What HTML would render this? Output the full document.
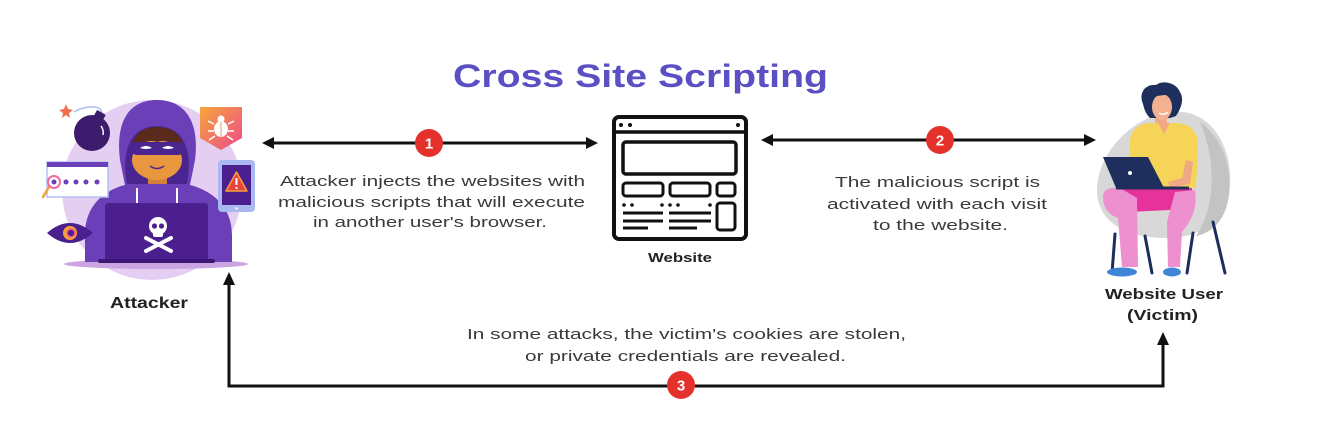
<!DOCTYPE html>
<html><head><meta charset="utf-8"><style>
html,body{margin:0;padding:0;background:#fff;}
svg{display:block;}
text{font-family:"Liberation Sans",Arial,sans-serif;}
</style></head><body>
<svg width="1328" height="440" viewBox="0 0 1328 440" xmlns="http://www.w3.org/2000/svg">
<defs>
<linearGradient id="sg" x1="0" y1="0" x2="1" y2="1">
<stop offset="0" stop-color="#f7a53a"/><stop offset="1" stop-color="#ec4a8c"/>
</linearGradient>
</defs>
<rect width="1328" height="440" fill="#fff"/>

<!-- Title -->
<text x="453" y="87" font-size="32" font-weight="bold" fill="#5a4fc3" textLength="375" lengthAdjust="spacingAndGlyphs">Cross Site Scripting</text>

<!-- ===== Attacker ===== -->
<circle cx="152" cy="190" r="90" fill="#e4cff2"/>
<ellipse cx="156" cy="264" rx="92" ry="5" fill="#caa5e2"/>
<path d="M85 262 L85 235 C85 205 105 190 125 185 L120 160 C115 120 130 100 157 100 C184 100 200 120 195 160 L190 185 C210 190 232 205 232 235 L232 262 Z" fill="#6b3fb8"/>
<path d="M127 184 C121 150 130 127 157 126 C184 127 193 150 187 184 Z" fill="#4a2590"/>
<rect x="148" y="170" width="19" height="14" fill="#d2803a"/>
<ellipse cx="157" cy="160" rx="25" ry="20" fill="#e8973f"/>
<path d="M132 152 C131 133 145 127 157 127 C172 127 184 135 183 150 C175 141 165 139 157 142 C148 139 138 143 132 152 Z" fill="#5a2a1c"/>
<rect x="131" y="142" width="53" height="13" rx="6" fill="#4a2590"/>
<path d="M140 148 Q146 144 152 148 Q146 150 140 148Z" fill="#fff"/>
<path d="M162 148 Q168 144 174 148 Q168 150 162 148Z" fill="#fff"/>
<path d="M150 166 Q157 171 164 166" stroke="#4a2590" stroke-width="1.5" fill="none"/>
<line x1="137" y1="188" x2="137" y2="205" stroke="#fff" stroke-width="2"/>
<line x1="177" y1="188" x2="177" y2="205" stroke="#fff" stroke-width="2"/>
<rect x="105" y="203" width="103" height="58" rx="3" fill="#4c1f8e"/>
<rect x="98" y="259" width="117" height="4" rx="2" fill="#3d1775"/>
<circle cx="158" cy="226" r="9" fill="#fff"/>
<rect x="153" y="230" width="10" height="7" rx="2" fill="#fff"/>
<circle cx="154.5" cy="226" r="2.6" fill="#4c1f8e"/>
<circle cx="161.5" cy="226" r="2.6" fill="#4c1f8e"/>
<line x1="146" y1="238" x2="171" y2="251" stroke="#fff" stroke-width="4" stroke-linecap="round"/>
<line x1="171" y1="238" x2="146" y2="251" stroke="#fff" stroke-width="4" stroke-linecap="round"/>
<path d="M101 116 C106 104 85 105 74 112" stroke="#a9c0ef" stroke-width="1.5" fill="none"/>
<polygon points="66,104 68,109 73,110 69,113 70,118 66,115 62,118 63,113 59,110 64,109" fill="#f0704e"/>
<circle cx="92" cy="133" r="18" fill="#3d1c6e"/>
<rect x="95" y="112" width="10" height="7" rx="1" transform="rotate(30 100 115)" fill="#3d1c6e"/>
<path d="M101 126 Q104 130 103 135" stroke="#fff" stroke-width="1.5" fill="none"/>
<path d="M200 107 L242 107 L242 138 L221 150 L200 138 Z" fill="url(#sg)"/>
<ellipse cx="221" cy="129" rx="7" ry="8" fill="#fff"/>
<circle cx="221" cy="119" r="3.5" fill="#fff"/>
<g stroke="#fff" stroke-width="1.5"><line x1="214" y1="124" x2="208" y2="121"/><line x1="228" y1="124" x2="234" y2="121"/><line x1="214" y1="131" x2="208" y2="131"/><line x1="228" y1="131" x2="234" y2="131"/><line x1="215" y1="136" x2="209" y2="140"/><line x1="227" y1="136" x2="233" y2="140"/></g>
<line x1="221" y1="122" x2="221" y2="137" stroke="#f09a5a" stroke-width="1"/>
<rect x="218" y="160" width="37" height="52" rx="4" fill="#a9b8f0"/>
<rect x="222" y="165" width="29" height="40" fill="#4c1f8e"/>
<polygon points="236.5,172 247,191 226,191" fill="#e8453c" stroke="#f6a03a" stroke-width="1.5" stroke-linejoin="round"/>
<rect x="235.5" y="178" width="2" height="7" fill="#fff"/>
<circle cx="236.5" cy="188" r="1.1" fill="#fff"/>
<circle cx="236.5" cy="208.5" r="1.2" fill="#fff"/>
<rect x="47" y="162" width="61" height="35" fill="#fff" stroke="#b3c0f0" stroke-width="1.5"/>
<rect x="47" y="162" width="61" height="5" fill="#6b3fb8"/>
<g fill="#6b3fb8"><circle cx="66" cy="182" r="2.5"/><circle cx="76" cy="182" r="2.5"/><circle cx="86" cy="182" r="2.5"/><circle cx="97" cy="182" r="2.5"/></g>
<line x1="49" y1="187" x2="43" y2="197" stroke="#f6a03a" stroke-width="2.5" stroke-linecap="round"/>
<circle cx="54" cy="182" r="6" fill="#fff" stroke="#ef6aa8" stroke-width="2"/>
<circle cx="54" cy="182" r="2.5" fill="#6b3fb8"/>
<path d="M47 233 Q70 213 93 233 Q70 253 47 233 Z" fill="#4c1f8e"/>
<circle cx="70" cy="233" r="7" fill="#f6a03a"/>
<circle cx="71" cy="233" r="4.5" fill="#ef4a8e"/>
<circle cx="71" cy="233" r="3" fill="#4c1f8e"/>
<text x="110" y="308" font-size="16" font-weight="bold" fill="#222" textLength="78" lengthAdjust="spacingAndGlyphs">Attacker</text>

<!-- ===== Website icon ===== -->
<g fill="none" stroke="#111">
<rect x="614" y="117" width="132" height="122" rx="5" stroke-width="4"/>
<line x1="614" y1="132" x2="746" y2="132" stroke-width="3.5"/>
<rect x="623" y="142" width="113" height="32" rx="3" stroke-width="3.5"/>
<rect x="623" y="183" width="40" height="13" rx="3" stroke-width="3"/>
<rect x="670" y="183" width="40" height="13" rx="3" stroke-width="3"/>
<rect x="717" y="183" width="18" height="13" rx="3" stroke-width="3"/>
<rect x="717" y="203" width="18" height="27" rx="3" stroke-width="3"/>
<g stroke-width="3"><line x1="623" y1="213" x2="663" y2="213"/><line x1="623" y1="221" x2="663" y2="221"/><line x1="623" y1="228" x2="648" y2="228"/>
<line x1="669" y1="213" x2="711" y2="213"/><line x1="669" y1="221" x2="711" y2="221"/><line x1="669" y1="228" x2="697" y2="228"/></g>
</g>
<g fill="#111"><circle cx="621" cy="125" r="2"/><circle cx="630" cy="125" r="2"/><circle cx="738" cy="125" r="2"/>
<circle cx="624" cy="205" r="1.8"/><circle cx="632" cy="205" r="1.8"/><circle cx="662" cy="205" r="1.8"/><circle cx="670" cy="205" r="1.8"/><circle cx="678" cy="205" r="1.8"/><circle cx="710" cy="205" r="1.8"/></g>
<text x="648" y="262" font-size="13" font-weight="bold" fill="#222" textLength="64" lengthAdjust="spacingAndGlyphs">Website</text>

<!-- ===== Victim ===== -->
<path d="M1183 112 C1215 116 1232 150 1230 185 C1228 218 1205 238 1165 238 C1120 238 1097 218 1097 190 C1097 150 1140 108 1183 112 Z" fill="#d8d8d8"/>
<path d="M1200 122 C1222 138 1232 165 1229 195 C1226 220 1212 233 1196 236 C1214 210 1218 165 1200 122 Z" fill="#c3c3c3"/>
<g stroke="#1c2e5c" stroke-width="3" stroke-linecap="round">
<line x1="1115" y1="234" x2="1112" y2="273"/><line x1="1145" y1="236" x2="1152" y2="273"/>
<line x1="1193" y1="233" x2="1187" y2="273"/><line x1="1213" y1="222" x2="1225" y2="273"/></g>
<!-- skirt -->
<path d="M1118 188 L1192 186 L1192 209 L1128 212 Z" fill="#e8329b"/>
<!-- legs -->
<path d="M1103 197 C1103 189 1110 187 1120 188 L1137 198 L1138 267 L1122 267 L1118 218 C1107 214 1103 206 1103 197 Z" fill="#ee8fd0"/>
<path d="M1175 192 L1195 190 C1198 210 1190 222 1182 232 L1180 267 L1168 267 L1167 222 Z" fill="#ee8fd0"/>
<ellipse cx="1122" cy="272" rx="15" ry="4.5" fill="#3f86d8"/>
<ellipse cx="1172" cy="272" rx="9" ry="4.5" fill="#3f86d8"/>
<!-- shirt -->
<rect x="1155" y="112" width="12" height="14" fill="#f1a886"/>
<path d="M1128 188 L1130 140 C1132 128 1140 123 1152 123 L1175 123 C1190 123 1198 131 1198 146 L1196 188 Z" fill="#f5d457"/>
<path d="M1158 123 L1164 134 L1170 123 Z" fill="#f1a886"/>
<path d="M1186 160 L1193 162 L1190 184 L1170 188 L1168 182 L1182 178 Z" fill="#f1a886"/>
<!-- head -->
<path d="M1143 104 C1138 92 1146 84 1156 85 C1162 80 1176 82 1180 92 C1185 100 1180 110 1176 116 L1170 118 L1150 118 C1145 113 1144 108 1143 104 Z" fill="#1e2f5e"/>
<ellipse cx="1162" cy="107" rx="10" ry="13" fill="#f4b190"/>
<path d="M1151 98 C1155 90 1168 89 1176 96 C1168 94 1158 95 1151 98 Z" fill="#1e2f5e"/>
<path d="M1159 113 Q1164 116 1168 112" stroke="#fff" stroke-width="1.5" fill="none"/>
<!-- laptop -->
<polygon points="1103,157 1148,157 1164,188 1116,188" fill="#1e2f5e"/>
<line x1="1116" y1="188" x2="1189" y2="188" stroke="#1e2f5e" stroke-width="3"/>
<circle cx="1130" cy="173" r="2" fill="#fff"/>
<text x="1105" y="299" font-size="15" font-weight="bold" fill="#222" textLength="118" lengthAdjust="spacingAndGlyphs">Website User</text>
<text x="1127" y="320" font-size="15" font-weight="bold" fill="#222" textLength="71" lengthAdjust="spacingAndGlyphs">(Victim)</text>

<!-- ===== Arrows ===== -->
<g stroke="#111" stroke-width="3" fill="none">
<line x1="272" y1="143" x2="588" y2="143"/>
<line x1="771" y1="140" x2="1086" y2="140"/>
<polyline points="229,283 229,386 1163,386 1163,343"/>
</g>
<g fill="#111">
<polygon points="262,143 274,137 274,149"/>
<polygon points="598,143 586,137 586,149"/>
<polygon points="761,140 773,134 773,146"/>
<polygon points="1096,140 1084,134 1084,146"/>
<polygon points="229,272 223,285 235,285"/>
<polygon points="1163,332 1157,345 1169,345"/>
</g>
<g>
<circle cx="429" cy="143" r="14" fill="#e4312b"/>
<text x="429" y="148.5" font-size="15" font-weight="bold" fill="#fff" text-anchor="middle">1</text>
<circle cx="940" cy="140" r="14" fill="#e4312b"/>
<text x="940" y="145.5" font-size="15" font-weight="bold" fill="#fff" text-anchor="middle">2</text>
<circle cx="681" cy="385" r="14" fill="#e4312b"/>
<text x="681" y="390.5" font-size="15" font-weight="bold" fill="#fff" text-anchor="middle">3</text>
</g>

<!-- ===== Descriptions ===== -->
<g font-size="15" fill="#3a3a3a">
<text x="280" y="186" textLength="305" lengthAdjust="spacingAndGlyphs">Attacker injects the websites with</text>
<text x="278" y="207" textLength="307" lengthAdjust="spacingAndGlyphs">malicious scripts that will execute</text>
<text x="313" y="227" textLength="234" lengthAdjust="spacingAndGlyphs">in another user's browser.</text>
<text x="835" y="187" textLength="205" lengthAdjust="spacingAndGlyphs">The malicious script is</text>
<text x="827" y="209" textLength="220" lengthAdjust="spacingAndGlyphs">activated with each visit</text>
<text x="873" y="230" textLength="135" lengthAdjust="spacingAndGlyphs">to the website.</text>
<text x="467" y="339" textLength="439" lengthAdjust="spacingAndGlyphs">In some attacks, the victim's cookies are stolen,</text>
<text x="525" y="361" textLength="321" lengthAdjust="spacingAndGlyphs">or private credentials are revealed.</text>
</g>
</svg>
</body></html>
